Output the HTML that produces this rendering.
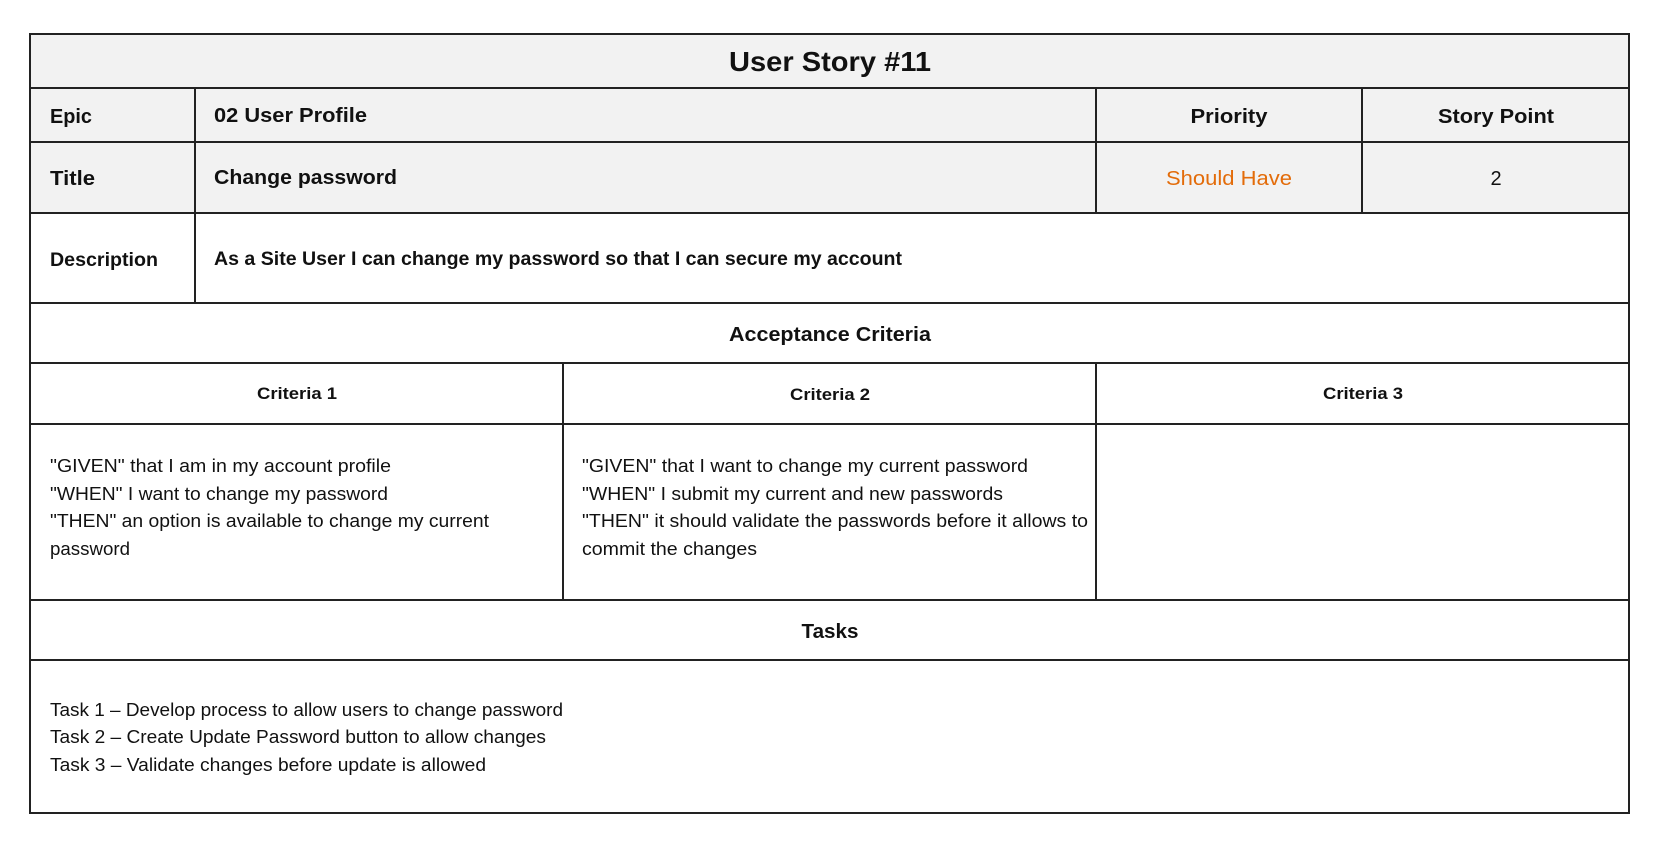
<!DOCTYPE html>
<html><head><meta charset="utf-8"><style>html,body{margin:0;padding:0;background:#fff}svg{display:block}</style></head>
<body>
<svg width="1659" height="845" viewBox="0 0 1659 845" xmlns="http://www.w3.org/2000/svg" font-family="Liberation Sans, sans-serif" fill="#111">
<rect x="30" y="34" width="1599" height="179" fill="#f2f2f2"/>
<g stroke="#222" stroke-width="2" fill="none">
<rect x="30" y="34" width="1599" height="779"/>
<line x1="30" y1="88" x2="1629" y2="88"/>
<line x1="30" y1="142" x2="1629" y2="142"/>
<line x1="30" y1="213" x2="1629" y2="213"/>
<line x1="30" y1="303" x2="1629" y2="303"/>
<line x1="30" y1="363" x2="1629" y2="363"/>
<line x1="30" y1="424" x2="1629" y2="424"/>
<line x1="30" y1="600" x2="1629" y2="600"/>
<line x1="30" y1="660" x2="1629" y2="660"/>
<line x1="195" y1="88" x2="195" y2="303"/>
<line x1="1096" y1="88" x2="1096" y2="213"/>
<line x1="1362" y1="88" x2="1362" y2="213"/>
<line x1="563" y1="363" x2="563" y2="600"/>
<line x1="1096" y1="363" x2="1096" y2="600"/>
</g>
<g font-weight="bold">
<text x="830" y="71" font-size="28" text-anchor="middle" textLength="202" lengthAdjust="spacingAndGlyphs">User Story #11</text>
<text x="50" y="123" font-size="20" textLength="42" lengthAdjust="spacingAndGlyphs">Epic</text>
<text x="214" y="122" font-size="20" textLength="153" lengthAdjust="spacingAndGlyphs">02 User Profile</text>
<text x="1229" y="123" font-size="20" text-anchor="middle" textLength="77" lengthAdjust="spacingAndGlyphs">Priority</text>
<text x="1496" y="123" font-size="20" text-anchor="middle" textLength="116" lengthAdjust="spacingAndGlyphs">Story Point</text>
<text x="50" y="185" font-size="20" textLength="45" lengthAdjust="spacingAndGlyphs">Title</text>
<text x="214" y="184" font-size="20" textLength="183" lengthAdjust="spacingAndGlyphs">Change password</text>
<text x="50" y="266" font-size="19" textLength="108" lengthAdjust="spacingAndGlyphs">Description</text>
<text x="214" y="265" font-size="19" textLength="688" lengthAdjust="spacingAndGlyphs">As a Site User I can change my password so that I can secure my account</text>
<text x="830" y="341" font-size="20" text-anchor="middle" textLength="202" lengthAdjust="spacingAndGlyphs">Acceptance Criteria</text>
<text x="297" y="399" font-size="17" text-anchor="middle" textLength="80" lengthAdjust="spacingAndGlyphs">Criteria 1</text>
<text x="830" y="400" font-size="17" text-anchor="middle" textLength="80" lengthAdjust="spacingAndGlyphs">Criteria 2</text>
<text x="1363" y="399" font-size="17" text-anchor="middle" textLength="80" lengthAdjust="spacingAndGlyphs">Criteria 3</text>
<text x="830" y="638" font-size="20" text-anchor="middle" textLength="57" lengthAdjust="spacingAndGlyphs">Tasks</text>
</g>
<text x="1229" y="185" font-size="20" fill="#e36c0a" text-anchor="middle" textLength="126" lengthAdjust="spacingAndGlyphs">Should Have</text>
<text x="1496" y="185" font-size="20" text-anchor="middle">2</text>
<g font-size="18">
<text x="50" y="472" textLength="341" lengthAdjust="spacingAndGlyphs">"GIVEN" that I am in my account profile</text>
<text x="50" y="500" textLength="338" lengthAdjust="spacingAndGlyphs">"WHEN" I want to change my password</text>
<text x="50" y="527" textLength="439" lengthAdjust="spacingAndGlyphs">"THEN" an option is available to change my current</text>
<text x="50" y="555" textLength="80" lengthAdjust="spacingAndGlyphs">password</text>
<text x="582" y="472" textLength="446" lengthAdjust="spacingAndGlyphs">"GIVEN" that I want to change my current password</text>
<text x="582" y="500" textLength="421" lengthAdjust="spacingAndGlyphs">"WHEN" I submit my current and new passwords</text>
<text x="582" y="527" textLength="506" lengthAdjust="spacingAndGlyphs">"THEN" it should validate the passwords before it allows to</text>
<text x="582" y="555" textLength="175" lengthAdjust="spacingAndGlyphs">commit the changes</text>
<text x="50" y="716" textLength="513" lengthAdjust="spacingAndGlyphs">Task 1 – Develop process to allow users to change password</text>
<text x="50" y="743" textLength="496" lengthAdjust="spacingAndGlyphs">Task 2 – Create Update Password button to allow changes</text>
<text x="50" y="771" textLength="436" lengthAdjust="spacingAndGlyphs">Task 3 – Validate changes before update is allowed</text>
</g>
</svg>
</body></html>
